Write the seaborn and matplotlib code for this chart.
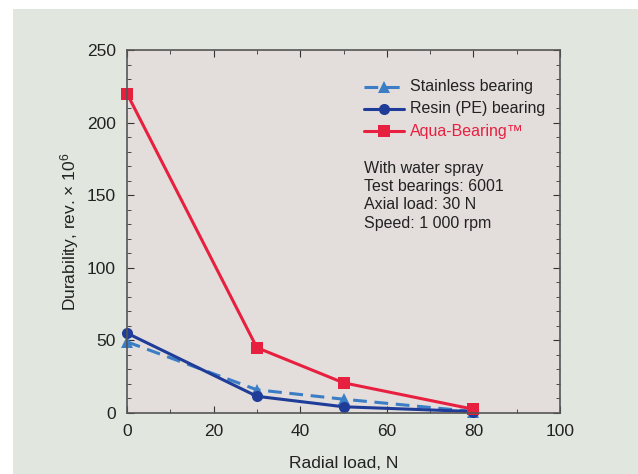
import matplotlib
matplotlib.use("Agg")
import matplotlib.pyplot as plt
from matplotlib.patches import Rectangle
from matplotlib.ticker import MultipleLocator
import pandas as pd
import seaborn as sns

# Data
radial_load = [0, 30, 50, 80]
stainless = [49, 16, 9.5, 1]
resin = [55, 11.5, 4.3, 1]
aqua = [220, 45, 20.8, 2.6]
series_names = ["Stainless bearing", "Resin (PE) bearing", "Aqua-Bearing\u2122"]
x_ticks = [0, 20, 40, 60, 80, 100]
y_ticks = [0, 50, 100, 150, 200, 250]
notes = ["With water spray", "Test bearings: 6001", "Axial load: 30 N", "Speed: 1 000 rpm"]

colors = {"Stainless bearing": "#3b7ec6", "Resin (PE) bearing": "#1f3d98",
          "Aqua-Bearing\u2122": "#e8203f"}
markers = {"Stainless bearing": "^", "Resin (PE) bearing": "o", "Aqua-Bearing\u2122": "s"}
dashes = {"Stainless bearing": (4.5, 2.5), "Resin (PE) bearing": "", "Aqua-Bearing\u2122": ""}

df = pd.concat([
    pd.DataFrame({"load": radial_load, "dur": vals, "series": name})
    for name, vals in zip(series_names, [stainless, resin, aqua])
])

sns.set_style("ticks")
plt.rcParams["font.family"] = ["Liberation Sans", "DejaVu Sans"]
plt.rcParams["mathtext.default"] = "regular"

fig = plt.figure(figsize=(6.38, 4.74), dpi=100)
fig.patch.set_facecolor("white")
bg = Rectangle((13 / 638, 0), 1, 1 - 9 / 474, transform=fig.transFigure,
               facecolor="#e1e7df", edgecolor="none", zorder=-10)
fig.patches.append(bg)
ax = fig.add_axes([127 / 638, 1 - 413 / 474, 433 / 638, 363 / 474])
ax.set_facecolor("#e3dddc")

sns.lineplot(data=df, x="load", y="dur", hue="series", style="series",
             palette=colors, markers=markers, dashes=dashes, linewidth=2.2,
             markersize=8, markeredgewidth=0, ax=ax, legend=False)
for ln in ax.lines:
    ln.set_clip_on(False)

ax.set_xlim(0, 100)
ax.set_ylim(0, 250)
ax.set_xticks(x_ticks)
ax.set_yticks(y_ticks)
ax.xaxis.set_minor_locator(MultipleLocator(10))
ax.yaxis.set_minor_locator(MultipleLocator(10))
ax.tick_params(which="both", direction="in", top=True, right=True, colors="#333333",
               labelsize=12.5, labelcolor="#222222")
ax.tick_params(which="major", length=5, pad=8)
ax.tick_params(which="minor", length=3)
for s in ax.spines.values():
    s.set_color("#555555")
    s.set_linewidth(1.2)

ax.set_xlabel("Radial load, N", fontsize=12.5, color="#222222", labelpad=12.5)
ax.set_ylabel("Durability, rev. \u00d7 10$^6$", fontsize=12.5, color="#222222", labelpad=4)

# legend drawn manually to match layout
for i, name in enumerate(series_names):
    y = 1 - (87 + 22 * i) / 474
    kw = {"dashes": dashes[name]} if dashes[name] else {}
    fig.add_artist(plt.Line2D([364 / 638, 404 / 638], [y, y], transform=fig.transFigure,
                              color=colors[name], lw=2.2, **kw))
    fig.add_artist(plt.Line2D([384 / 638], [y], transform=fig.transFigure,
                              marker=markers[name], color=colors[name], markersize=8,
                              markeredgewidth=0, linestyle="none"))
    fig.text(410 / 638, y, name, fontsize=11.5, va="center",
             color=colors[name] if i == 2 else "#222222")

for i, line in enumerate(notes):
    fig.text(364 / 638, 1 - (168 + 18.5 * i) / 474, line, fontsize=11.5, va="center",
             color="#222222")

fig.savefig("out.png", dpi=100)
